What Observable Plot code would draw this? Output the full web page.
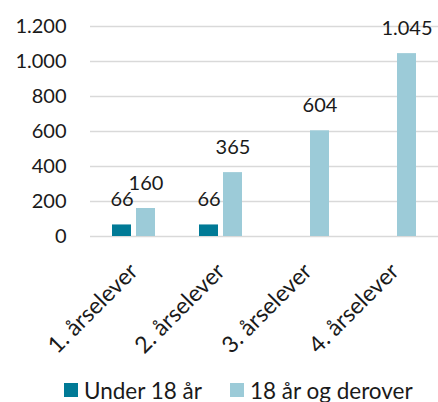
<!DOCTYPE html>
<html>
<head>
<meta charset="utf-8">
<script src="https://cdn.jsdelivr.net/npm/d3@7"></script>
<script src="https://cdn.jsdelivr.net/npm/@observablehq/plot@0.6"></script>
<style>
  html, body { margin: 0; padding: 0; background: #fff; }
  body { width: 438px; height: 402px; overflow: hidden; font-family: Lato, sans-serif; color: #1a1a1a; }
  #legend { display: flex; align-items: center; padding-left: 64px; height: 32px; font-size: 22.5px; margin-top: 12px; white-space: nowrap; }
  .item { display: flex; align-items: center; margin-right: 28px; flex: none; }
  .sw { width: 14px; height: 14px; margin-right: 6px; flex: none; }
</style>
</head>
<body>
<div id="chart"></div>
<div id="legend"></div>
<script>
const categories = ["1. årselever", "2. årselever", "3. årselever", "4. årselever"];
const seriesNames = ["Under 18 år", "18 år og derover"];
const under18 = [66, 66, null, null];
const over18 = [160, 365, 604, 1045];
const yTicks = [0, 200, 400, 600, 800, 1000, 1200];
const colors = ["#007a96", "#9ccbd8"];

const data = [];
categories.forEach((c, i) => {
  if (under18[i] != null) data.push({cat: c, series: seriesNames[0], value: under18[i]});
  if (over18[i] != null) data.push({cat: c, series: seriesNames[1], value: over18[i]});
});

const locale = d3.formatLocale({decimal: ",", thousands: ".", grouping: [3], currency: ["", " kr"]});
const fmt = locale.format(",d");

const chart = Plot.plot({
  width: 438,
  height: 362,
  marginLeft: 89,
  marginRight: 0,
  marginTop: 26,
  marginBottom: 126,
  style: {fontFamily: "Lato, sans-serif", fontSize: "20px", color: "#1a1a1a", background: "#fff"},
  fx: {domain: categories, padding: 0, label: null, axis: null},
  x: {domain: seriesNames, axis: null, paddingInner: 0.2, paddingOuter: 0.845},
  y: {domain: [0, 1200], ticks: yTicks, tickFormat: fmt, tickSize: 0, tickPadding: 24, label: null},
  color: {domain: seriesNames, range: colors},
  marks: [
    Plot.gridY(yTicks, {stroke: "#d9d9d9", strokeOpacity: 1, strokeWidth: 1.5}),
    Plot.axisFx({anchor: "bottom", label: null, tickRotate: -45, tickSize: 0, tickPadding: 31, fontSize: 23}),
    Plot.barY(data, {fx: "cat", x: "series", y: "value", fill: "series"}),
    Plot.text(data, {fx: "cat", x: "series", y: "value", text: d => fmt(d.value), dy: -25, fill: "#1a1a1a", fontSize: 20})
  ]
});
document.getElementById("chart").appendChild(chart);

const legend = document.getElementById("legend");
seriesNames.forEach((s, i) => {
  const it = document.createElement("div");
  it.className = "item";
  const sw = document.createElement("span");
  sw.className = "sw";
  sw.style.background = colors[i];
  const t = document.createElement("span");
  t.textContent = s;
  it.appendChild(sw); it.appendChild(t);
  legend.appendChild(it);
});
</script>
</body>
</html>
